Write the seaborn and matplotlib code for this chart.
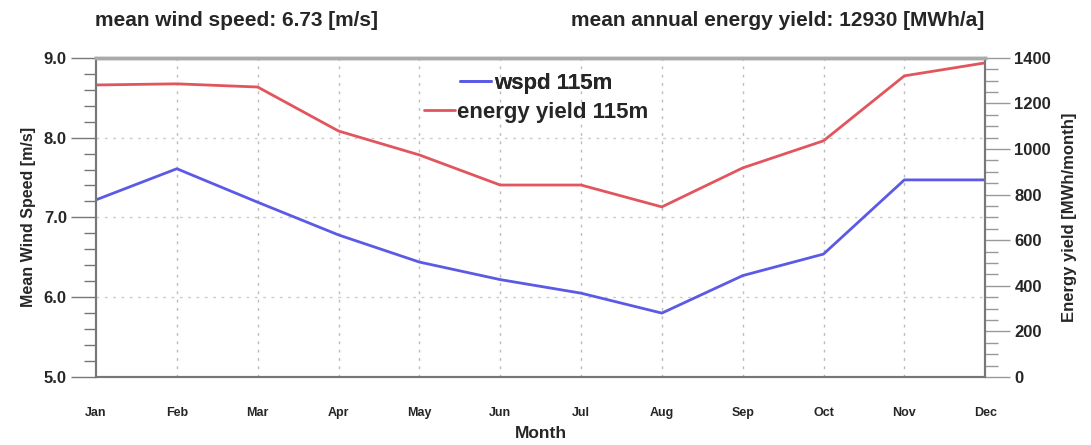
import pandas as pd
import matplotlib
matplotlib.use("Agg")
import matplotlib.pyplot as plt
import seaborn as sns
from matplotlib.ticker import MultipleLocator

# data
months = ["Jan", "Feb", "Mar", "Apr", "May", "Jun",
          "Jul", "Aug", "Sep", "Oct", "Nov", "Dec"]
wspd = [7.22, 7.61, 7.19, 6.78, 6.44, 6.22, 6.05, 5.80, 6.27, 6.54, 7.47, 7.47]
energy = [1281, 1286, 1272, 1079, 974, 842, 842, 746, 917, 1036, 1321, 1378]

df = pd.DataFrame({"month": range(len(months)), "wspd": wspd, "energy": energy})

sns.set_theme(style="white")
plt.rcParams["font.family"] = ["Liberation Sans", "DejaVu Sans"]
plt.rcParams["font.weight"] = "bold"

fig = plt.figure(figsize=(10.91, 4.45), dpi=100)
ax = fig.add_axes([0.088, 0.153, 0.815, 0.717])
ax2 = ax.twinx()

sns.lineplot(data=df, x="month", y="wspd", ax=ax, color="#5a5ae6",
             linewidth=2, label="wspd 115m", legend=False)
sns.lineplot(data=df, x="month", y="energy", ax=ax2, color="#e2555c",
             linewidth=2, label="energy yield 115m", legend=False)

ax.set_xlim(0, 11)
ax.set_ylim(5.0, 9.0)
ax2.set_ylim(0, 1400)

ax.set_xticks(range(len(months)))
ax.set_xticklabels(months, fontsize=9, fontweight="bold")
ax.yaxis.set_minor_locator(MultipleLocator(0.2))
ax.set_yticks([5, 6, 7, 8, 9])
ax.set_yticklabels(["5.0", "6.0", "7.0", "8.0", "9.0"], fontsize=12, fontweight="bold")
ax2.yaxis.set_major_locator(MultipleLocator(200))
ax2.yaxis.set_minor_locator(MultipleLocator(50))
for lab in ax2.get_yticklabels():
    lab.set_fontsize(12)
    lab.set_fontweight("bold")

ax.tick_params(axis="x", which="major", direction="out", length=18, width=1,
               color="#555555", pad=4)
ax.tick_params(axis="y", which="major", direction="out", length=18, width=1,
               color="#777777", pad=3)
ax.tick_params(axis="y", which="minor", direction="out", length=9, width=1,
               color="#777777", left=True)
ax2.tick_params(axis="y", which="major", direction="out", length=18, width=1,
                color="#999999", pad=3)
ax2.tick_params(axis="y", which="minor", direction="out", length=9, width=1,
                color="#999999", right=True)

# dotted grid
for m in range(1, len(months) - 1):
    ax.axvline(m, color="#bbbbbb", linestyle=(0, (2, 4)), linewidth=1, zorder=0)
for v in [6, 7, 8]:
    ax.axhline(v, color="#cccccc", linestyle=(0, (2, 4)), linewidth=1, zorder=0)

for a in (ax, ax2):
    for s in a.spines.values():
        s.set_color("#777777")
        s.set_linewidth(1.5)
    a.spines["top"].set_color("#aaaaaa")
    a.spines["top"].set_linewidth(2.5)

ax.set_xlabel("Month", fontsize=12.5, fontweight="bold", labelpad=5)
ax.set_ylabel("Mean Wind Speed [m/s]", fontsize=11.5, fontweight="bold", labelpad=6)
ax2.set_ylabel("Energy yield [MWh/month]", fontsize=12, fontweight="bold", labelpad=8)

# two centred legend rows, like the original
h1, l1 = ax.get_legend_handles_labels()
h2, l2 = ax2.get_legend_handles_labels()
leg1 = ax.legend(h1, l1, loc="center", bbox_to_anchor=(0.495, 0.92),
                 frameon=False, handlelength=1.4, handletextpad=0.1,
                 borderpad=0, prop={"weight": "bold", "size": 16})
ax.add_artist(leg1)
ax2.legend(h2, l2, loc="center", bbox_to_anchor=(0.495, 0.83),
           frameon=False, handlelength=1.4, handletextpad=0.1,
           borderpad=0, prop={"weight": "bold", "size": 16})

fig.text(0.087, 0.955, "mean wind speed: 6.73 [m/s]", fontsize=15,
         fontweight="bold", ha="left", va="center")
fig.text(0.902, 0.955, "mean annual energy yield: 12930 [MWh/a]", fontsize=15,
         fontweight="bold", ha="right", va="center")

fig.savefig("out.png", dpi=100)
